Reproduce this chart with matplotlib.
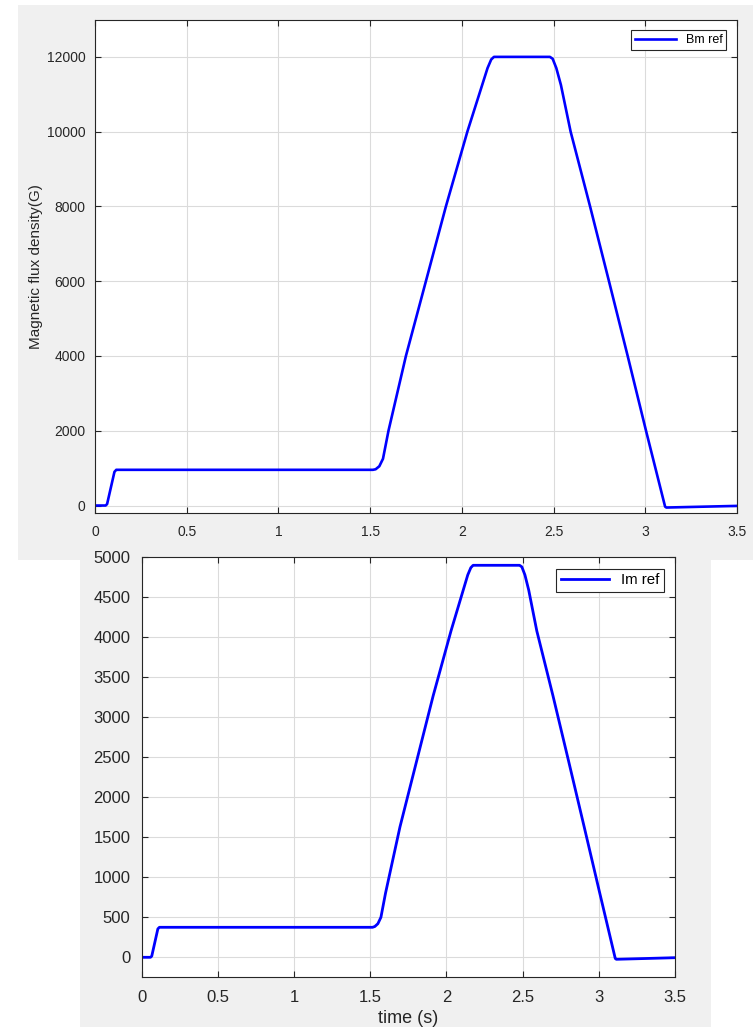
import matplotlib
matplotlib.use("Agg")
import matplotlib.pyplot as plt
from matplotlib.patches import Rectangle

plt.rcParams['font.family'] = ['Liberation Sans', 'DejaVu Sans']

# Reference flux density profile (time in s, value in G)
bm_t = [0.0, 0.058, 0.066, 0.106, 0.116, 1.515, 1.53, 1.55, 1.57, 1.60,
        1.695, 1.804, 1.913, 2.030, 2.14, 2.16, 2.175, 2.48, 2.495, 2.515,
        2.54, 2.593, 2.699, 2.802, 2.904, 3.004, 3.108, 3.115, 3.5]
bm_v = [0, 0, 40, 900, 955, 955, 970, 1050, 1250, 2000,
        4000, 6000, 8000, 10000, 11700, 11930, 12000, 12000, 11950, 11700,
        11250, 10000, 8000, 6000, 4000, 2000, -30, -54, -10]

# Reference magnet current profile (time in s, value in A)
im_t = [0.0, 0.058, 0.066, 0.106, 0.116, 1.515, 1.53, 1.55, 1.57, 1.60,
        1.695, 1.804, 1.913, 2.030, 2.14, 2.16, 2.175, 2.48, 2.495, 2.515,
        2.54, 2.593, 2.699, 2.802, 2.904, 3.004, 3.108, 3.115, 3.5]
im_v = [0, 0, 15, 355, 375, 375, 385, 420, 500, 800,
        1630, 2450, 3270, 4080, 4780, 4870, 4900, 4900, 4880, 4780,
        4590, 4080, 3270, 2450, 1630, 820, -15, -25, -5]

x_ticks = [0, 0.5, 1, 1.5, 2, 2.5, 3, 3.5]
x_ticklabels = ['0', '0.5', '1', '1.5', '2', '2.5', '3', '3.5']
bm_ticks = [0, 2000, 4000, 6000, 8000, 10000, 12000]
im_ticks = [0, 500, 1000, 1500, 2000, 2500, 3000, 3500, 4000, 4500, 5000]

W, H = 753, 1027
fig = plt.figure(figsize=(W / 100, H / 100), dpi=100)
fig.patch.set_facecolor('white')

panel = '#f0f0f0'
# window backgrounds
fig.add_artist(Rectangle((18 / W, 1 - 560 / H), (753 - 18) / W, (560 - 5) / H,
                         transform=fig.transFigure, facecolor=panel,
                         edgecolor='none', zorder=0))
fig.add_artist(Rectangle((80 / W, 0), (711 - 80) / W, (1027 - 548) / H,
                         transform=fig.transFigure, facecolor=panel,
                         edgecolor='none', zorder=0))


def px_axes(l, t, r, b):
    return fig.add_axes([l / W, 1 - b / H, (r - l) / W, (b - t) / H])


dark = (0.15, 0.15, 0.15)


def style(ax, fs, pad):
    ax.set_facecolor('white')
    ax.grid(True, color=(0.86, 0.86, 0.86), linewidth=0.8)
    ax.set_axisbelow(True)
    for s in ax.spines.values():
        s.set_color(dark)
        s.set_linewidth(0.8)
    ax.tick_params(direction='in', length=4, width=0.8, colors=dark,
                   top=True, right=True, labelsize=fs, pad=pad)


# upper plot: flux density
ax1 = px_axes(95, 19.5, 737, 513)
ax1.plot(bm_t, bm_v, color=(0, 0, 1), linewidth=1.9, label='Bm ref')
ax1.set_xlim(0, 3.5)
ax1.set_ylim(-200, 13000)
ax1.set_xticks(x_ticks)
ax1.set_xticklabels(x_ticklabels)
ax1.set_yticks(bm_ticks)
style(ax1, 10, 7)
ax1.tick_params(axis='x', pad=9)
ax1.set_ylabel('Magnetic flux density(G)', fontsize=11, color=dark)
ax1.yaxis.set_label_coords(-0.081, 0.5)
leg1 = ax1.legend(loc='upper right', fontsize=9, handlelength=3.3,
                  fancybox=False, framealpha=1, edgecolor=dark,
                  borderaxespad=0.85, borderpad=0.3)
leg1.get_frame().set_linewidth(0.8)

# lower plot: magnet current
ax2 = px_axes(141.7, 557.3, 675, 977.3)
ax2.plot(im_t, im_v, color=(0, 0, 1), linewidth=2.0, label='Im ref')
ax2.set_xlim(0, 3.5)
ax2.set_ylim(-250, 5000)
ax2.set_xticks(x_ticks)
ax2.set_xticklabels(x_ticklabels)
ax2.set_yticks(im_ticks)
style(ax2, 12, 8)
ax2.tick_params(axis='x', pad=9)
ax2.set_xlabel('time (s)', fontsize=13, color=dark)
ax2.xaxis.set_label_coords(0.5, -0.079)
leg2 = ax2.legend(loc='upper right', fontsize=10.8, handlelength=3.2,
                  fancybox=False, framealpha=1, edgecolor=dark,
                  borderaxespad=0.75, borderpad=0.3)
leg2.get_frame().set_linewidth(0.8)

fig.savefig('out.png', dpi=100, facecolor=fig.get_facecolor())
